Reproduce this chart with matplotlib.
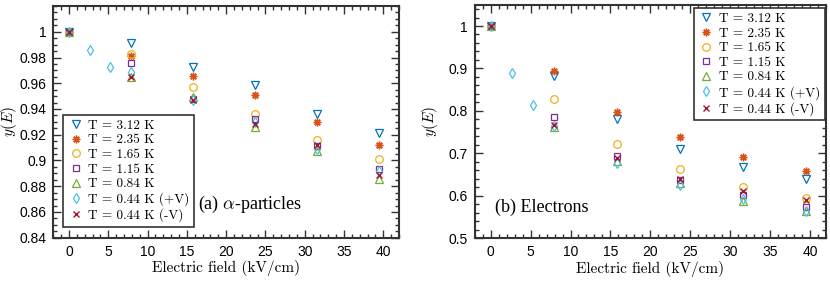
import matplotlib
matplotlib.use("Agg")
import matplotlib.pyplot as plt
from matplotlib.ticker import MultipleLocator

plt.rcParams['mathtext.fontset'] = 'cm'
plt.rcParams['font.family'] = ['Liberation Sans', 'DejaVu Sans']

# field values (kV/cm)
field = [0, 7.9, 15.8, 23.7, 31.6, 39.5]
field_pv = [0, 2.63, 5.27, 7.9, 15.8, 23.7, 31.6, 39.5]

labels = ['T = 3.12 K', 'T = 2.35 K', 'T = 1.65 K', 'T = 1.15 K',
          'T = 0.84 K', 'T = 0.44 K (+V)', 'T = 0.44 K (-V)']

# (a) alpha particles
alpha_312 = [1.0, 0.991, 0.973, 0.959, 0.936, 0.921]
alpha_235 = [1.0, 0.981, 0.966, 0.951, 0.930, 0.912]
alpha_165 = [1.0, 0.983, 0.957, 0.936, 0.916, 0.901]
alpha_115 = [1.0, 0.976, 0.948, 0.932, 0.911, 0.893]
alpha_084 = [1.0, 0.965, 0.949, 0.926, 0.907, 0.886]
alpha_044p = [1.0, 0.986, 0.973, 0.969, 0.947, 0.930, 0.909, 0.892]
alpha_044m = [1.0, 0.965, 0.947, 0.928, 0.912, 0.889]

# (b) electrons
elec_312 = [1.0, 0.882, 0.781, 0.711, 0.668, 0.639]
elec_235 = [1.0, 0.893, 0.798, 0.739, 0.692, 0.658]
elec_165 = [1.0, 0.828, 0.721, 0.664, 0.621, 0.594]
elec_115 = [1.0, 0.786, 0.694, 0.637, 0.602, 0.574]
elec_084 = [1.0, 0.762, 0.681, 0.631, 0.589, 0.564]
elec_044p = [1.0, 0.889, 0.813, 0.765, 0.678, 0.626, 0.593, 0.564]
elec_044m = [1.0, 0.768, 0.690, 0.640, 0.612, 0.590]

colors = ['#0072BD', '#D95319', '#EDB120', '#7E2F8E', '#77AC30', '#4DBEEE', '#A2142F']
markers = ['v', (8, 2, 0), 'o', 's', '^', 'd', 'x']
sizes = [5.5, 5.5, 5.5, 4.5, 5.5, 5.5, 4]
serif = ['cmr10', 'DejaVu Serif']


def draw(ax, series):
    for i, (xs, ys) in enumerate(series):
        c = colors[i]
        if i in (1, 6):
            ax.plot(xs, ys, ls='none', marker=markers[i], ms=sizes[i],
                    color=c, mew=1.0, label=labels[i])
        else:
            ax.plot(xs, ys, ls='none', marker=markers[i], ms=sizes[i],
                    mfc='none', mec=c, mew=0.9, label=labels[i])
    ax.set_xlim(-2, 42)
    ax.xaxis.set_major_locator(MultipleLocator(5))
    ax.xaxis.set_minor_locator(MultipleLocator(1))
    ax.tick_params(which='both', direction='in', top=True, right=True,
                   labelsize=10, color='#333333', width=1.0, pad=5)
    ax.tick_params(which='major', length=6)
    ax.tick_params(which='minor', length=3)
    for sp in ax.spines.values():
        sp.set_linewidth(1.5)
        sp.set_color('#333333')
    ax.set_xlabel('Electric field (kV/cm)', fontsize=11, labelpad=1,
                  family=serif)
    ax.set_ylabel(r'$y(E)$', fontsize=11)


def make_legend(ax, loc, anchor):
    leg = ax.legend(loc=loc, bbox_to_anchor=anchor,
                    prop={'family': serif, 'size': 9.5},
                    handletextpad=0.35, labelspacing=0.18, borderpad=0.35,
                    handlelength=1.2, borderaxespad=0, fancybox=False,
                    framealpha=1)
    leg.get_frame().set_edgecolor('#333333')
    leg.get_frame().set_linewidth(1.2)
    return leg


fig = plt.figure(figsize=(8.3, 2.81), dpi=100)

ax1 = fig.add_axes([0.0642, 0.154, 0.4165, 0.8246])
draw(ax1, [(field, alpha_312), (field, alpha_235), (field, alpha_165),
           (field, alpha_115), (field, alpha_084), (field_pv, alpha_044p),
           (field, alpha_044m)])
ax1.set_ylim(0.84, 1.02)
ax1.yaxis.set_minor_locator(MultipleLocator(0.005))
ax1.set_yticks([0.84, 0.86, 0.88, 0.9, 0.92, 0.94, 0.96, 0.98, 1.0])
ax1.set_yticklabels(['0.84', '0.86', '0.88', '0.9', '0.92', '0.94', '0.96', '0.98', '1'])
ax1.yaxis.set_label_coords(-0.1, 0.5)
make_legend(ax1, 'lower left', (0.029, 0.046))
ax1.text(0.42, 0.145, r'(a) $\alpha$-particles', transform=ax1.transAxes,
         fontsize=13, family='Liberation Serif', va='center')

ax2 = fig.add_axes([0.572, 0.152, 0.423, 0.831])
draw(ax2, [(field, elec_312), (field, elec_235), (field, elec_165),
           (field, elec_115), (field, elec_084), (field_pv, elec_044p),
           (field, elec_044m)])
ax2.set_ylim(0.5, 1.05)
ax2.yaxis.set_minor_locator(MultipleLocator(0.02))
ax2.set_yticks([0.5, 0.6, 0.7, 0.8, 0.9, 1.0])
ax2.set_yticklabels(['0.5', '0.6', '0.7', '0.8', '0.9', '1'])
ax2.yaxis.set_label_coords(-0.1, 0.5)
make_legend(ax2, 'upper right', (0.997, 0.986))
ax2.text(0.057, 0.134, '(b) Electrons', transform=ax2.transAxes,
         fontsize=13, family='Liberation Serif', va='center')

fig.savefig('out.png', dpi=100)
